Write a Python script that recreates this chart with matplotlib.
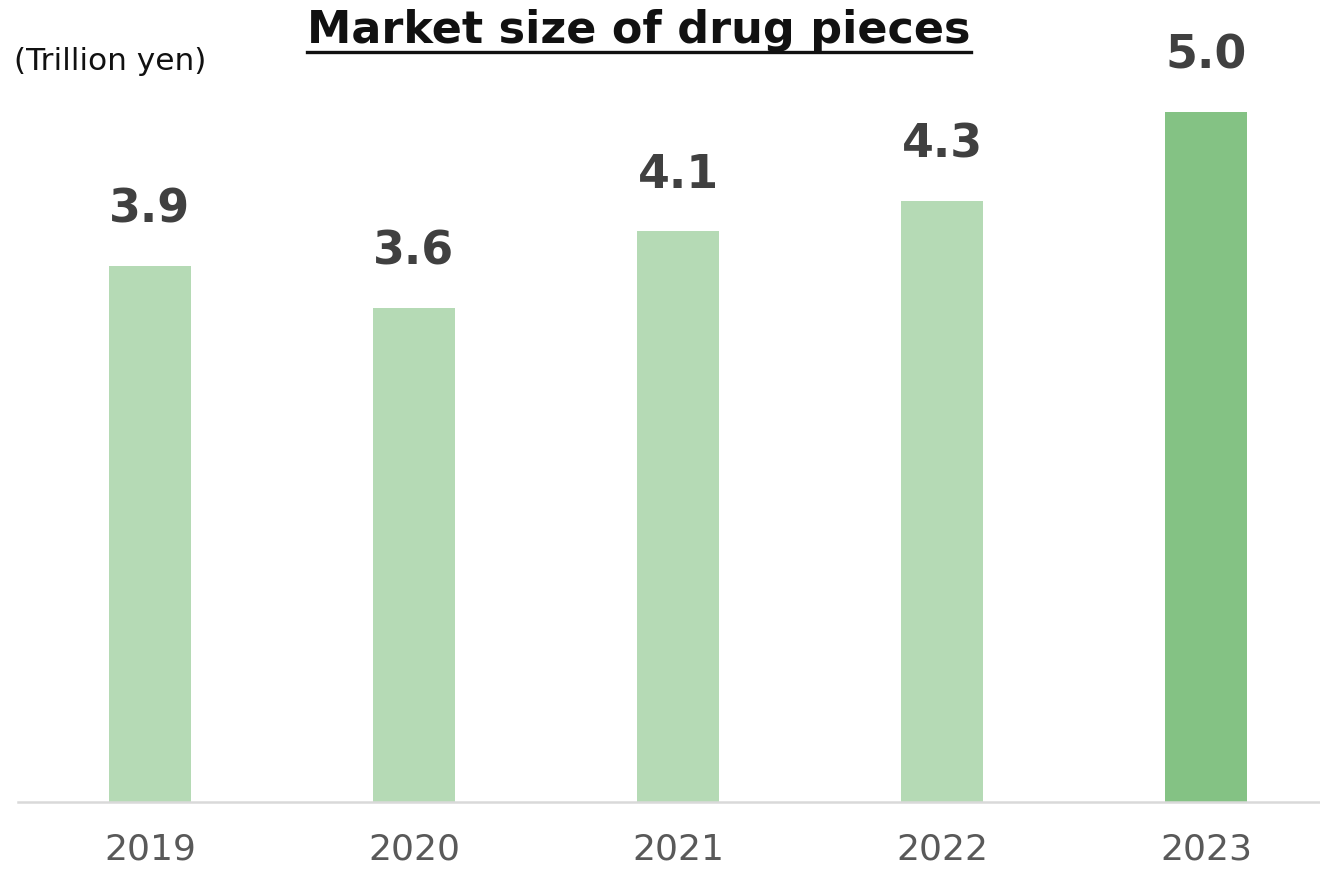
import matplotlib
matplotlib.use('Agg')
import matplotlib.pyplot as plt
from matplotlib.lines import Line2D

years = ['2019', '2020', '2021', '2022', '2023']
values = [3.87, 3.57, 4.12, 4.34, 4.98]
colors = ['#b5dab5', '#b5dab5', '#b5dab5', '#b5dab5', '#84c284']

plt.rcParams['font.family'] = ['DejaVu Sans']

fig = plt.figure(figsize=(13.2, 8.73), dpi=100)
ax = fig.add_axes([18 / 1320, 71 / 873, 1.0, 802 / 873])

x = range(len(years))
ax.bar(x, values, width=0.31, color=colors)
for xi, v in zip(x, values):
    ax.annotate('%.1f' % v, (xi, v), xytext=(0, 24), textcoords='offset points',
                ha='center', va='bottom', fontsize=33, fontweight='bold', color='#404040')

ax.set_xlim(-0.5, 4.5)
ax.set_ylim(0, 5.79)
ax.set_xticks(list(x))
ax.set_xticklabels(years, fontsize=26, color='#595959')
ax.tick_params(axis='x', length=0, pad=22)
ax.set_yticks([])
for s in ['top', 'right', 'left']:
    ax.spines[s].set_visible(False)
ax.spines['bottom'].set_color('#d9d9d9')
ax.spines['bottom'].set_linewidth(1.8)

fig.text(14 / 1320, 1 - 61 / 873, '(Trillion yen)', fontsize=22.5, color='#111111',
         ha='left', va='center')
title = fig.text(639 / 1320, 1 - 31 / 873, 'Market size of drug pieces', fontsize=32,
                 fontweight='bold', color='#111111', ha='center', va='center')

# underline the title
fig.canvas.draw()
bb = title.get_window_extent().transformed(fig.transFigure.inverted())
fig.add_artist(Line2D([bb.x0, bb.x1], [1 - 52 / 873, 1 - 52 / 873], color='#111111',
                      linewidth=2.4, transform=fig.transFigure))

fig.savefig('out.png', dpi=100)
